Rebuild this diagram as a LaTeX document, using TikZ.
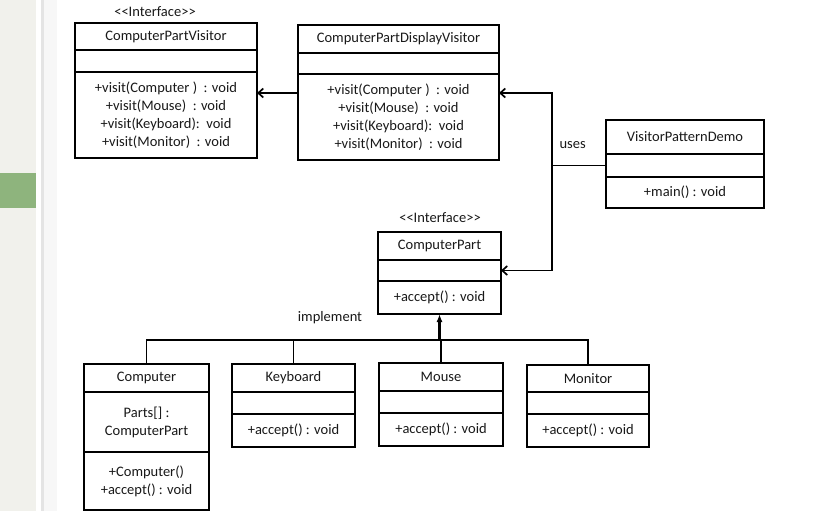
\documentclass[tikz,border=0pt]{standalone}
\usepackage{fontspec}
\setmainfont{Carlito}
\usetikzlibrary{positioning,arrows.meta}
\definecolor{panel}{HTML}{F1F1EC}
\definecolor{tabgreen}{HTML}{8EB47D}
\definecolor{rulegray}{HTML}{E4E4E4}

\begin{document}
\begin{tikzpicture}[x=1pt, y=-1pt,
        part/.style={draw, line width=1.7pt, inner sep=0pt, outer sep=0pt,
            align=center, anchor=north west, minimum width=#1,
            font=\fontsize{14.5}{18}\selectfont, text=black!90},
        note/.style={font=\fontsize{14.5}{18}\selectfont, text=black!90},
        link/.style={line width=1.7pt},
        >={Straight Barb[length=5pt,width=9pt]}]
    % page and side panel
    \useasboundingbox (0,0) rectangle (817,511);
    \fill[white] (0,0) rectangle (817,511);
    \fill[panel] (0,0) rectangle (36,511);
    \fill[tabgreen] (0,173) rectangle (36,208);
    \fill[rulegray] (41,0) rectangle (44,511);
    \fill[black!3] (44,0) rectangle (57,511);

    % visitors
    \node[note] (cpv-st) at (155,12) {<\kern0pt<Interface>\kern0pt>};
    \node[part=182, minimum height=27] (cpv-name) at (75,23) {ComputerPartVisitor};
    \node[part=182, minimum height=22, below=0pt of cpv-name] (cpv-attr) {};
    \node[part=182, minimum height=86, below=0pt of cpv-attr] (cpv-ops)
        {+visit(Computer )\ \ : void\\+visit(Mouse)\ \ : void\\+visit(Keyboard):\ \ void\\+visit(Monitor)\ \ : void};

    \node[part=201, minimum height=28] (cpdv-name) at (298,25) {ComputerPartDisplayVisitor};
    \node[part=201, minimum height=21, below=0pt of cpdv-name] (cpdv-attr) {};
    \node[part=201, minimum height=86, below=0pt of cpdv-attr] (cpdv-ops)
        {+visit(Computer )\ \ : void\\+visit(Mouse)\ \ : void\\+visit(Keyboard):\ \ void\\+visit(Monitor)\ \ : void};

    % demo
    \node[part=158, minimum height=34] (vpd-name) at (606,120) {VisitorPatternDemo};
    \node[part=158, minimum height=23, below=0pt of vpd-name] (vpd-attr) {};
    \node[part=158, minimum height=31, below=0pt of vpd-attr] (vpd-ops) {+main() : void};

    % element interface
    \node[note] (cp-st) at (440,218) {<\kern0pt<Interface>\kern0pt>};
    \node[part=123, minimum height=28] (cp-name) at (378,232) {ComputerPart};
    \node[part=123, minimum height=21, below=0pt of cp-name] (cp-attr) {};
    \node[part=123, minimum height=33, below=0pt of cp-attr] (cp-ops) {+accept() : void};

    % elements
    \node[part=125, minimum height=28] (comp-name) at (84,364) {Computer};
    \node[part=125, minimum height=60, below=0pt of comp-name] (comp-attr) {Parts[] :\\ComputerPart};
    \node[part=125, minimum height=58, below=0pt of comp-attr] (comp-ops) {+Computer()\\+accept() : void};

    \node[part=123, minimum height=28] (key-name) at (232,364) {Keyboard};
    \node[part=123, minimum height=22, below=0pt of key-name] (key-attr) {};
    \node[part=123, minimum height=33, below=0pt of key-attr] (key-ops) {+accept() : void};

    \node[part=124, minimum height=28] (mou-name) at (379,363) {Mouse};
    \node[part=124, minimum height=22, below=0pt of mou-name] (mou-attr) {};
    \node[part=124, minimum height=33, below=0pt of mou-attr] (mou-ops) {+accept() : void};

    \node[part=122, minimum height=27] (mon-name) at (527,365) {Monitor};
    \node[part=122, minimum height=22, below=0pt of mon-name] (mon-attr) {};
    \node[part=122, minimum height=33, below=0pt of mon-attr] (mon-ops) {+accept() : void};

    % visitor inheritance
    \coordinate (d1) at ([yshift=-19pt]cpdv-ops.north west);
    \draw[link, ->] (d1) -- (d1 -| cpv-ops.east);

    % uses
    \coordinate (j) at ([xshift=-54pt]vpd-attr.west);
    \draw[link] (vpd-attr.west) -- (j);
    \draw[link, ->] (j) |- ([yshift=-19pt]cpdv-ops.north east);
    \draw[link, ->] (j) |- (cp-attr.east);
    \node[note, anchor=west] (uses) at ([xshift=4pt, yshift=20pt]j) {uses};

    % implement
    \coordinate (ib) at ([yshift=-26pt]cp-ops.south);
    \draw[link] (comp-name.north) |- (mon-name.north |- ib) -- (mon-name.north);
    \draw[link] (key-name.north) -- (key-name.north |- ib);
    \draw[link] (mou-name.north) -- (mou-name.north |- ib);
    \draw[link, line width=2.4pt, -{Latex[length=8pt,width=6pt]}] (ib) -- (cp-ops.south);
    \node[note] (impl) at (330,318) {implement};
\end{tikzpicture}
\end{document}
